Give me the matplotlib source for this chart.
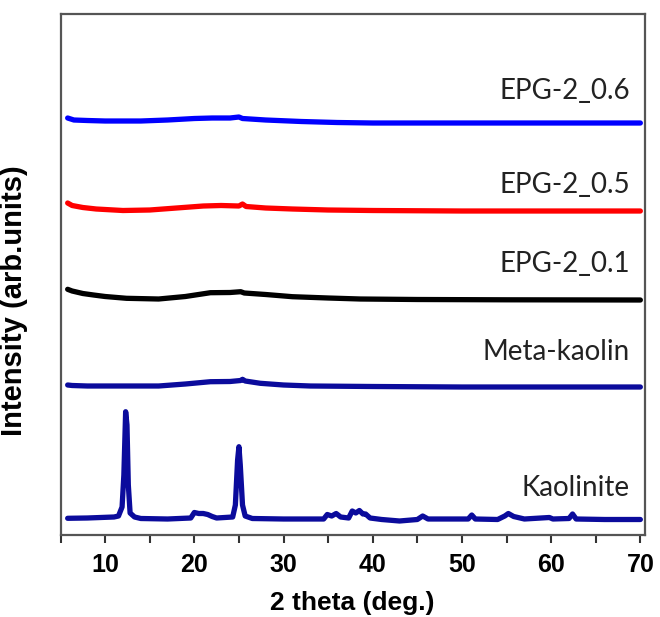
"""
XRD patterns: Kaolinite, Meta-kaolin and EPG-2 geopolymers (stacked, offset).
"""

import numpy as np
import matplotlib
matplotlib.use("Agg")
import matplotlib.pyplot as plt

# --- DATA (2 theta in degrees, intensity in arbitrary offset units) ---
tt_kaolinite = [5.8, 8.0, 11.0, 11.5, 11.9, 12.1, 12.3, 12.45, 12.6, 12.8, 13.3, 14.0,
                17.0, 19.6, 20.0, 20.5, 21.0, 21.5, 22.0, 22.5, 24.3, 24.6, 24.85, 25.0,
                25.15, 25.4, 25.7, 26.5, 30.0, 34.5, 34.9, 35.4, 35.9, 36.4, 37.3, 37.7,
                38.1, 38.5, 38.9, 39.2, 39.7, 41.0, 43.0, 45.0, 45.6, 46.2, 48.0, 50.7,
                51.1, 51.5, 54.0, 54.8, 55.2, 55.8, 57.0, 59.8, 60.2, 62.0, 62.4, 62.8,
                66.0, 70.0]
i_kaolinite = [16.7, 17.0, 18.0, 19.0, 28.0, 60.0, 123.3, 110.0, 50.0, 22.0, 18.0, 16.5,
               16.0, 17.0, 22.5, 21.5, 21.5, 20.5, 18.5, 17.0, 18.0, 30.0, 75.0, 88.3,
               70.0, 30.0, 19.0, 16.5, 16.0, 16.0, 20.5, 19.0, 21.5, 18.0, 17.0, 24.0,
               22.0, 24.5, 21.0, 21.0, 17.0, 15.5, 14.0, 15.5, 19.0, 16.0, 16.0, 16.0,
               20.0, 16.0, 15.5, 19.0, 21.5, 18.5, 16.0, 17.5, 16.0, 16.5, 21.0, 16.0,
               15.5, 15.5]

tt_meta = [5.8, 6.3, 8.0, 12.0, 16.0, 19.0, 21.8, 24.0, 25.2, 25.4, 25.7, 27.4, 30.0,
           33.0, 40.0, 50.0, 70.0]
i_meta = [150.0, 149.5, 149.0, 149.0, 149.0, 151.0, 153.3, 153.5, 154.5, 155.7, 154.0,
          151.7, 150.0, 149.0, 148.5, 148.0, 148.0]

tt_epg01 = [5.8, 6.3, 7.5, 8.7, 10.0, 12.4, 16.0, 19.0, 21.8, 24.0, 25.2, 25.6, 28.0,
            31.0, 35.0, 38.6, 45.0, 55.0, 70.0]
i_epg01 = [245.7, 244.0, 241.5, 240.0, 238.5, 236.7, 236.0, 238.5, 242.3, 242.5, 243.3,
           242.0, 240.5, 238.3, 237.0, 236.0, 235.5, 235.2, 235.0]

tt_epg05 = [5.8, 6.3, 7.5, 9.0, 12.0, 15.0, 18.0, 21.0, 23.0, 25.0, 25.4, 25.8, 28.0,
            31.0, 35.0, 40.0, 50.0, 60.0, 70.0]
i_epg05 = [332.0, 329.5, 327.5, 326.0, 324.5, 325.0, 327.0, 329.0, 329.5, 329.0, 331.0,
           328.5, 327.0, 326.0, 325.0, 324.5, 324.0, 324.0, 324.0]

tt_epg06 = [5.8, 6.5, 8.0, 10.0, 14.0, 17.0, 20.0, 22.0, 24.0, 25.0, 25.4, 28.0, 32.0,
            36.0, 40.0, 50.0, 60.0, 70.0]
i_epg06 = [417.0, 415.0, 414.5, 414.0, 414.0, 415.0, 416.5, 417.0, 417.0, 418.0, 416.5,
           415.0, 413.5, 412.5, 412.0, 412.0, 412.0, 412.0]

series = [
    (tt_kaolinite, i_kaolinite, "#0b0b9c", "Kaolinite", 47),
    (tt_meta, i_meta, "#0b0b9c", "Meta-kaolin", 183),
    (tt_epg01, i_epg01, "#000000", "EPG-2_0.1", 271),
    (tt_epg05, i_epg05, "#ff0000", "EPG-2_0.5", 350),
    (tt_epg06, i_epg06, "#0000ff", "EPG-2_0.6", 444),
]

fig = plt.figure(figsize=(6.6, 6.17), dpi=100)
ax = fig.add_axes([0.0917, 0.1329, 0.8853, 0.8444])

for tt, inten, col, name, ylab in series:
    ax.plot(tt, inten, color=col, linewidth=3.8, solid_capstyle="round")
    ax.text(0.974, ylab, name, transform=ax.get_yaxis_transform(), ha="right",
            va="center", fontsize=20, color="#222222", family="Lato")

ax.set_xlim(5, 70.5)
ax.set_ylim(0, 521)
ax.set_xticks(np.arange(10, 71, 10))
ax.set_xticks(np.arange(5, 71, 10), minor=True)
ax.set_yticks([])
ax.tick_params(axis="x", which="both", direction="out", length=6, width=1.5,
               color="#333333", pad=7)
for lbl in ax.get_xticklabels():
    lbl.set_fontsize(18)
    lbl.set_fontweight("bold")
    lbl.set_family("Liberation Sans")

for sp in ax.spines.values():
    sp.set_color("#555555")
    sp.set_linewidth(1.6)

ax.set_xlabel("2 theta (deg.)", fontsize=19, fontweight="bold",
              family="Liberation Sans", labelpad=10)
ax.set_ylabel("Intensity (arb.units)", fontsize=21, fontweight="bold",
              family="Liberation Sans")
ax.yaxis.set_label_coords(-0.055, 0.45)

fig.savefig("out.png", dpi=100)
